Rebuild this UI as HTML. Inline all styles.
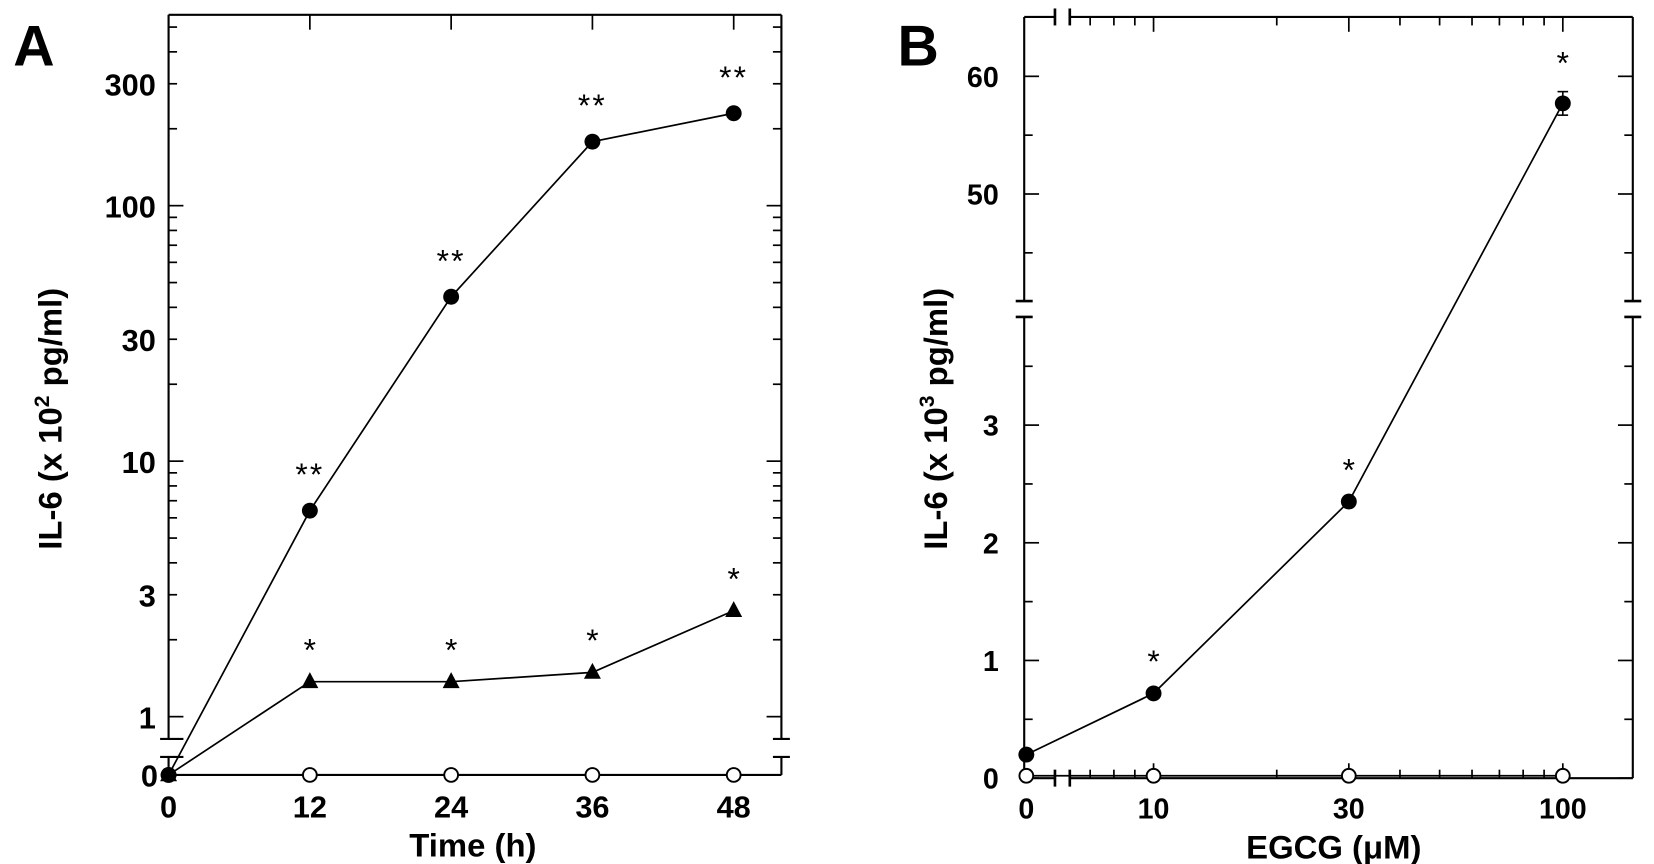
<!DOCTYPE html>
<html><head><meta charset="utf-8">
<style>
html,body{margin:0;padding:0;background:#fff;}
svg{display:block;}
text{font-family:"Liberation Sans",Arial,sans-serif;font-weight:bold;fill:#000;}
</style></head>
<body>
<svg id="fig" width="1654" height="864" viewBox="0 0 1560 815" preserveAspectRatio="none" xmlns="http://www.w3.org/2000/svg">
<g id="panelA"></g>
<g id="panelB"></g>
</svg>
<script>
// ---- Panel A data ----
const timesA = [0, 12, 24, 36, 48];
const egcgA = [0, 6.4, 44, 178, 230];        // filled circles
const triA = [0, 1.37, 1.37, 1.49, 2.6];     // filled triangles
const ctrlA = [0, 0, 0, 0, 0];               // open circles
const starsCircleA = ["", "**", "**", "**", "**"];
const starsTriA = ["", "*", "*", "*", "*"];
const yTicksA = [1, 3, 10, 30, 100, 300];
const yTickLabelsA = ["1", "3", "10", "30", "100", "300"];
const xTickLabelsA = ["0", "12", "24", "36", "48"];

// ---- Panel B data ----
const doseB = [0, 10, 30, 100];
const egcgB = [0.2, 0.72, 2.35, 57.7];
const errB = [0, 0, 0, 1.0];
const ctrlB = [0.02, 0.02, 0.02, 0.02];
const starsB = ["", "*", "*", "*"];
const yTicksLowB = [0, 1, 2, 3];
const yTicksHighB = [50, 60];
const xTickLabelsB = ["0", "10", "30", "100"];

const NS = "http://www.w3.org/2000/svg";
function mk(parent, tag, attrs, txt) {
  const e = document.createElementNS(NS, tag);
  for (const k in attrs) e.setAttribute(k, attrs[k]);
  if (txt !== undefined) e.textContent = txt;
  parent.appendChild(e);
  return e;
}
function line(p, x1, y1, x2, y2, w) { return mk(p, "line", {x1, y1, x2, y2, stroke: "#000", "stroke-width": w || 1.6}); }

// ===== Panel A =====
const A = document.getElementById("panelA");
const aL = 159, aR = 737, aT = 14, aZero = 731;
const xA = t => aL + (t - 0) * (692 - 159) / 48;
const yA = v => v <= 0 ? aZero : 676 - Math.log10(v) * 241;
line(A, aL, aT, aR, aT, 2); line(A, aL, aZero, aR, aZero, 2);
line(A, aL, aT, aL, 697, 2); line(A, aL, 714, aL, aZero, 2);
line(A, aR, aT, aR, 697, 2); line(A, aR, 714, aR, aZero, 2);
line(A, aL - 8, 697, aL + 14, 697, 2); line(A, aL - 8, 714, aL + 14, 714, 2);
line(A, aR - 8, 697, aR + 8, 697, 2); line(A, aR - 8, 714, aR + 8, 714, 2);
for (let d = 0; d <= 2; d++) {
  for (let m = 1; m <= 9; m++) {
    const v = m * Math.pow(10, d);
    const y = yA(v);
    if (y < aT) continue;
    const len = (m === 1) ? 14 : 8;
    line(A, aL, y, aL + len, y); line(A, aR, y, aR - len, y);
  }
}
yTicksA.forEach((v, i) => {
  const t = mk(A, "text", {x: aL - 12, y: yA(v) + 11, "text-anchor": "end", "font-size": 29, transform: ""}, yTickLabelsA[i]);
  
  
});
let tz = mk(A, "text", {x: aL - 10, y: aZero + 11, "text-anchor": "end", "font-size": 29}, "0");


timesA.forEach((t, i) => {
  const x = xA(t);
  line(A, x, aT, x, aT + 14);
  const l = mk(A, "text", {x: x, y: aZero + 40, "text-anchor": "middle", "font-size": 29}, xTickLabelsA[i]);
  
  
});
function poly(p, xs, ys, name) {
  const pts = xs.map((x, i) => x + "," + ys[i]).join(" ");
  const e = mk(p, "polyline", {points: pts, fill: "none", stroke: "#000", "stroke-width": 1.6});
  
  
}
poly(A, timesA.map(xA), ctrlA.map(yA), "control-line-a");
poly(A, timesA.map(xA), triA.map(yA), "triangle-line-a");
poly(A, timesA.map(xA), egcgA.map(yA), "circle-line-a");
timesA.forEach((t, i) => {
  const x = xA(t);
  const yc = yA(ctrlA[i]);
  const oc = mk(A, "circle", {cx: x, cy: yc, r: 6.5, fill: "#fff", stroke: "#000", "stroke-width": 1.8});
  
  
  const yt = yA(triA[i]);
  const tr = mk(A, "polygon", {points: `${x},${yt - 9} ${x - 8},${yt + 6} ${x + 8},${yt + 6}`, fill: "#000"});
  
  
  const y = yA(egcgA[i]);
  const c = mk(A, "circle", {cx: x, cy: y, r: 7.5, fill: "#000"});
  
  
  if (starsCircleA[i]) {
    const s = mk(A, "text", {x: x, y: y - 24, "text-anchor": "middle", "font-size": 30, style: "font-weight:normal", "letter-spacing": 2}, starsCircleA[i]);
    
    
  }
  if (starsTriA[i]) {
    const s = mk(A, "text", {x: x, y: yt - 20, "text-anchor": "middle", "font-size": 30, style: "font-weight:normal"}, starsTriA[i]);
    
    
  }
});
let ta = mk(A, "text", {x: 32, y: 62, "font-size": 54, "text-anchor": "middle"}, "A");
 
let xtA = mk(A, "text", {x: 446, y: 808, "font-size": 31, "text-anchor": "middle"}, "Time (h)");
 
let ytA = mk(A, "text", {transform: "translate(58,395) rotate(-90)", "font-size": 31, "text-anchor": "middle"});
 
ytA.innerHTML = 'IL-6 (x 10<tspan dy="-12" font-size="20">2</tspan><tspan dy="12"> pg/ml)</tspan>';

// ===== Panel B =====
const B = document.getElementById("panelB");
const bL = 966, bR = 1540, bT = 16, bZero = 734;
const bBrk1 = 284, bBrk2 = 299, xBrk1 = 995, xBrk2 = 1009;
const xB = d => d <= 0 ? 968 : 1088 + (Math.log10(d) - 1) * 386;
const yB = v => v <= 4 ? bZero - v * 111 : 183 - (v - 50) * 11.1;
line(B, bL, bT, xBrk1, bT, 2); line(B, xBrk2, bT, bR, bT, 2);
line(B, bL, bZero, xBrk1, bZero, 2); line(B, xBrk2, bZero, bR, bZero, 2);
line(B, bL, bT, bL, bBrk1, 2); line(B, bL, bBrk2, bL, bZero, 2);
line(B, bR, bT, bR, bBrk1, 2); line(B, bR, bBrk2, bR, bZero, 2);
[bBrk1, bBrk2].forEach(y => { line(B, bL - 8, y, bL + 8, y, 2.5); line(B, bR - 8, y, bR + 8, y, 2.5); });
[xBrk1, xBrk2].forEach(x => { line(B, x, bT - 8, x, bT + 8, 2.5); line(B, x, bZero - 8, x, bZero + 8, 2.5); });
for (let v = 0; v <= 3.5; v += 0.5) {
  const len = Number.isInteger(v) ? 14 : 8;
  line(B, bL, yB(v), bL + len, yB(v)); line(B, bR, yB(v), bR - len, yB(v));
}
for (let v = 45; v <= 60; v += 5) {
  const len = v % 10 === 0 ? 14 : 8;
  line(B, bL, yB(v), bL + len, yB(v)); line(B, bR, yB(v), bR - len, yB(v));
}
yTicksLowB.concat(yTicksHighB).forEach(v => {
  const t = mk(B, "text", {x: bL - 24, y: yB(v) + 10, "text-anchor": "end", "font-size": 27}, String(v));
  
  
});
[7, 8, 9, 10, 20, 30, 40, 50, 60, 70, 80, 90, 100].forEach(d => {
  const len = (d === 10 || d === 30 || d === 100) ? 14 : 8;
  line(B, xB(d), bZero, xB(d), bZero - len); line(B, xB(d), bT, xB(d), bT + len);
});
doseB.forEach((d, i) => {
  const t = mk(B, "text", {x: xB(d), y: bZero + 38, "text-anchor": "middle", "font-size": 27}, xTickLabelsB[i]);
  
  
});
poly(B, doseB.map(xB), ctrlB.map(yB), "control-line-b");
poly(B, doseB.map(xB), egcgB.map(yB), "egcg-line-b");
doseB.forEach((d, i) => {
  const x = xB(d);
  const oc = mk(B, "circle", {cx: x, cy: yB(ctrlB[i]), r: 6.5, fill: "#fff", stroke: "#000", "stroke-width": 1.8});
  
  
  const y = yB(egcgB[i]);
  if (errB[i] > 0) {
    const y1 = yB(egcgB[i] + errB[i]), y2 = yB(egcgB[i] - errB[i]);
    line(B, x, y1, x, y2, 1.5); line(B, x - 5, y1, x + 5, y1, 1.5); line(B, x - 5, y2, x + 5, y2, 1.5);
  }
  const c = mk(B, "circle", {cx: x, cy: y, r: 7.5, fill: "#000"});
  
  
  if (starsB[i]) {
    const s = mk(B, "text", {x: x, y: y - 20 - (errB[i] > 0 ? 8 : 0), "text-anchor": "middle", "font-size": 30, style: "font-weight:normal"}, starsB[i]);
    
    
  }
});
let tb = mk(B, "text", {x: 866, y: 62, "font-size": 54, "text-anchor": "middle"}, "B");
 
let xtB = mk(B, "text", {x: 1258, y: 810, "font-size": 31, "text-anchor": "middle"}, "EGCG (\u03bcM)");
 
let ytB = mk(B, "text", {transform: "translate(893,395) rotate(-90)", "font-size": 31, "text-anchor": "middle"});
 
ytB.innerHTML = 'IL-6 (x 10<tspan dy="-12" font-size="20">3</tspan><tspan dy="12"> pg/ml)</tspan>';
</script>
</body></html>
